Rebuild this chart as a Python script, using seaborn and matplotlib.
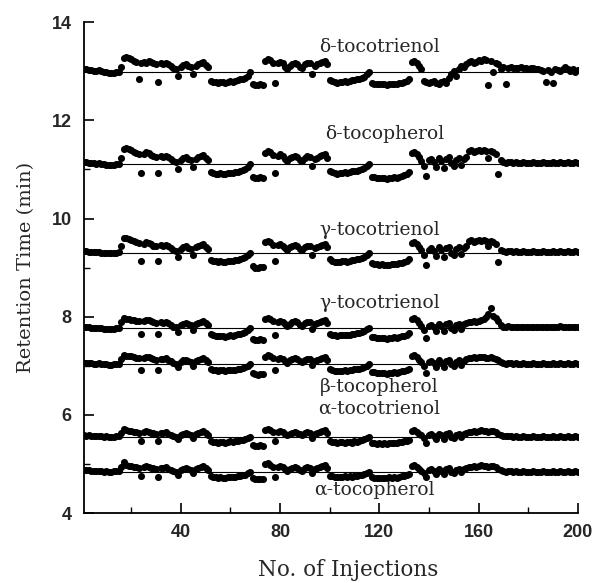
import matplotlib as mpl
import matplotlib.pyplot as plt
from matplotlib.ticker import MultipleLocator
import seaborn as sns
import pandas as pd
import numpy as np

sns.set_style('ticks')
mpl.rcParams['font.family'] = ['DejaVu Serif']

# injection number 1..200
injections = list(range(1, 201))

compounds = ['δ-tocotrienol', 'δ-tocopherol', 'γ-tocotrienol', 'γ-tocotrienol (2)',
             'β-tocopherol', 'α-tocotrienol', 'α-tocopherol']
# mean retention time (the horizontal line drawn through each trace), min
mean_rt = [12.99, 11.11, 9.30, 7.77, 7.03, 5.55, 4.84]

# read-off offsets from the mean line, in 0.01 min, one value per injection
d_toco3 = [5, 5, 4, 3, 2, 2, 3, 2, 0, -1, -2, -2, -2, -1, 0, 10, 28, 30, 27, 26,
           22, 20, -15, 17, 20, 18, 22, 20, 17, 15, -20, 17, 16, 18, 15, 12, 8, 5, -8, 10,
           14, 15, 12, 10, -5, 12, 15, 18, 20, 14, 10, -18, -20, -21, -22, -20, -21, -22, -20, -19,
           -20, -18, -17, -15, -14, -12, -8, 0, -25, -27, -28, -25, -27, 22, 25, 24, 18, -22, 18, 20,
           17, 10, 5, 12, 15, 18, 16, 10, 8, 15, 18, 17, -5, 12, 15, 18, 20, 22, 15, -16,
           -19, -20, -22, -21, -20, -19, -20, -18, -17, -16, -15, -14, -12, -10, -5, 0, -22, -24, -25, -26,
           -25, -26, -27, -26, -25, -24, -25, -23, -22, -20, -18, -15, 20, 22, 18, 12, 5, -18, -20, -22,
           -20, -18, -22, -24, -20, -18, -22, -12, -5, 2, -8, 5, 12, 10, 15, 20, 22, 18, 20, 24,
           22, 25, 24, -28, 22, 0, 18, 15, 5, 10, -25, 8, 10, 8, 7, 8, 9, 7, 8, 6,
           7, 8, 6, 5, 4, 2, -20, 3, 0, -22, 6, 4, 2, 5, 10, 6, 2, 5, 0, 3]
d_toco = [4, 4, 3, 3, 2, 1, 2, 1, 0, -1, -1, -2, -1, 0, 1, 12, 30, 33, 30, 28,
          25, 22, 20, -18, 20, 24, 22, 19, 16, 14, -18, 16, 15, 17, 14, 10, 6, 4, -10, 8,
          12, 14, 11, 8, -6, 10, 14, 17, 19, 13, 8, -16, -18, -20, -21, -19, -20, -21, -19, -18,
          -19, -17, -16, -15, -13, -11, -7, 0, -26, -28, -29, -27, -28, 22, 26, 24, 18, -18, 16, 20,
          17, 11, 6, 12, 15, 17, 15, 9, 7, 13, 16, 15, -4, 10, 13, 16, 18, 20, 12, -14,
          -17, -18, -20, -19, -18, -17, -18, -16, -15, -14, -14, -13, -11, -9, -4, 0, -26, -27, -28, -29,
          -28, -29, -30, -29, -28, -27, -28, -26, -25, -23, -20, -16, 22, 24, 20, 14, 6, -4, -25, 8,
          10, 4, -6, 12, 6, -8, 10, 14, 2, -4, 8, 12, -2, 10, 14, 26, 28, 25, 27, 29,
          26, 28, 27, 13, 26, 24, 20, -20, 8, 4, 3, 5, 4, 3, 4, 3, 2, 4, 3, 2,
          3, 4, 2, 3, 2, 4, 3, 2, 3, 4, 2, 3, 5, 3, 2, 4, 3, 2, 4, 3]
g_toco3_a = [3, 3, 2, 2, 1, 1, 1, 0, 0, -1, -1, -1, 0, 0, 1, 14, 31, 30, 28, 27,
             24, 22, 20, -17, 19, 22, 20, 18, 15, 13, -17, 16, 14, 16, 13, 9, 5, 3, -9, 8,
             12, 13, 10, 8, -5, 11, 13, 16, 18, 12, 7, -14, -16, -17, -18, -17, -18, -19, -17, -16,
             -17, -15, -14, -13, -11, -9, -5, 0, -27, -30, -31, -29, -28, 22, 25, 23, 17, -17, 16, 18,
             15, 10, 5, 11, 14, 16, 14, 8, 6, 12, 15, 14, -4, 9, 12, 15, 17, 19, 11, -13,
             -16, -18, -19, -18, -17, -17, -18, -16, -15, -14, -13, -12, -10, -8, -4, 0, -20, -22, -23, -24,
             -23, -24, -25, -24, -23, -22, -23, -21, -20, -18, -16, -12, 20, 22, 18, 12, 5, -4, -24, 6,
             9, 3, -7, 11, 5, -9, 9, 12, 0, -5, 7, 11, -3, 9, 13, 24, 26, 23, 25, 27,
             24, 27, 25, 14, 24, 22, 19, -18, 6, 3, 2, 4, 3, 2, 3, 2, 1, 3, 2, 1,
             2, 3, 1, 2, 1, 3, 2, 1, 2, 3, 1, 2, 4, 2, 1, 3, 2, 1, 3, 2]
g_toco3_b = [2, 2, 1, 0, 0, -1, 0, -1, -2, -2, -3, -2, -2, -1, 0, 12, 20, 19, 18, 17,
             16, 15, 14, -12, 15, 17, 16, 14, 12, 10, -12, 12, 11, 13, 10, 6, 3, 1, -8, 6,
             9, 10, 8, 6, -4, 8, 10, 13, 15, 10, 6, -13, -15, -16, -17, -16, -17, -18, -16, -15,
             -16, -14, -13, -12, -10, -8, -4, 0, -22, -24, -25, -23, -24, 18, 20, 19, 14, -14, 12, 15,
             13, 8, 4, 9, 12, 14, 12, 7, 5, 10, 13, 12, -3, 8, 11, 13, 15, 17, 10, -12,
             -14, -15, -16, -15, -15, -14, -15, -14, -13, -12, -11, -10, -9, -7, -3, 0, -18, -19, -20, -21,
             -20, -21, -22, -21, -20, -19, -20, -18, -17, -16, -14, -11, 18, 20, 16, 10, 4, -4, -20, 5,
             7, 2, -6, 9, 4, -7, 8, 10, 0, -4, 6, 9, -2, 8, 11, 13, 12, 14, 13, 15,
             16, 19, 22, 28, 41, 25, 20, 14, 6, 3, 2, 4, 3, 2, 3, 2, 1, 3, 2, 1,
             2, 3, 1, 2, 1, 3, 2, 1, 2, 3, 1, 2, 4, 2, 1, 3, 2, 1, 3, 2]
b_toco = [3, 3, 2, 2, 1, 1, 2, 1, 0, 0, -1, -1, 0, 0, 1, 10, 18, 17, 16, 16,
          14, 13, 12, -12, 13, 15, 14, 12, 10, 9, -12, 11, 10, 12, 9, 6, 3, 1, -6, 5,
          8, 9, 7, 5, -3, 7, 9, 11, 13, 9, 5, -10, -11, -12, -13, -12, -12, -13, -12, -11,
          -12, -11, -10, -9, -8, -6, -3, 0, -18, -20, -21, -19, -20, 15, 18, 17, 12, -12, 11, 13,
          11, 7, 3, 8, 10, 12, 10, 6, 4, 9, 11, 10, -2, 7, 9, 11, 13, 15, 9, -10,
          -12, -13, -14, -13, -13, -12, -13, -12, -11, -10, -10, -9, -8, -6, -3, 0, -15, -16, -17, -18,
          -17, -18, -19, -18, -17, -16, -17, -15, -14, -13, -12, -9, 16, 18, 14, 9, 4, -3, -18, 4,
          6, 2, -5, 8, 3, -6, 7, 9, 0, -3, 5, 8, -1, 7, 10, 12, 13, 14, 13, 14,
          15, 14, 13, 12, 14, 13, 11, 8, 4, 2, 1, 3, 2, 1, 2, 1, 0, 2, 1, 0,
          1, 2, 0, 1, 0, 2, 1, 0, 1, 2, 0, 1, 3, 1, 0, 2, 1, 0, 2, 1]
a_toco3 = [3, 2, 3, 2, 1, 2, 1, 1, 0, 1, 0, -1, 0, 1, 2, 8, 16, 14, 13, 12,
           11, 10, 9, -8, 10, 12, 11, 9, 8, 7, -9, 9, 8, 10, 7, 4, 2, 0, -5, 4,
           7, 8, 6, 4, -2, 6, 8, 10, 12, 8, 4, -8, -10, -11, -12, -10, -11, -12, -10, -9,
           -10, -9, -8, -7, -6, -5, -2, 0, -16, -18, -19, -17, -18, 14, 16, 15, 11, -9, 10, 12,
           10, 6, 3, 7, 9, 11, 9, 5, 3, 8, 10, 9, -2, 6, 8, 10, 12, 14, 8, -8,
           -10, -11, -12, -11, -10, -12, -11, -10, -12, -9, -10, -8, -7, -5, -2, 0, -12, -13, -14, -13,
           -14, -13, -14, -12, -13, -12, -13, -11, -10, -9, -8, -6, 12, 14, 11, 7, 3, -3, -12, 3,
           5, 2, -4, 6, 3, -5, 6, 8, 0, -2, 4, 7, 0, 6, 8, 10, 11, 12, 11, 13,
           14, 13, 12, 11, 13, 12, 10, 7, 3, 2, 1, 2, 1, 0, 1, 0, -1, 1, 0, -1,
           0, 1, -1, 0, -1, 1, 0, -1, 0, 1, -1, 0, 2, 0, -1, 1, 0, -1, 1, 0]
a_toco = [4, 3, 4, 2, 2, 1, 2, 1, 0, 1, 0, 0, 1, 1, 2, 10, 20, 14, 12, 11,
          10, 9, 8, -9, 9, 11, 10, 8, 7, 6, -10, 8, 7, 9, 6, 3, 1, -1, -6, 3,
          6, 7, 5, 3, -2, 5, 7, 9, 11, 7, 3, -9, -10, -11, -12, -11, -12, -13, -11, -10,
          -11, -10, -9, -8, -7, -6, -3, 0, -13, -14, -15, -14, -14, 16, 18, 14, 10, -10, 9, 11,
          9, 5, 2, 6, 8, 10, 8, 4, 2, 7, 9, 8, -3, 5, 7, 9, 11, 13, 7, -8,
          -9, -10, -11, -10, -10, -9, -10, -9, -11, -8, -9, -7, -6, -5, -2, 0, -11, -12, -13, -12,
          -13, -12, -13, -11, -12, -11, -12, -10, -9, -8, -7, -5, 11, 13, 10, 6, 2, -3, -11, 3,
          5, 1, -4, 6, 2, -5, 5, 7, 0, -2, 4, 6, 0, 5, 7, 9, 10, 11, 10, 12,
          13, 12, 11, 10, 12, 11, 9, 6, 3, 1, 0, 2, 1, 0, 1, 0, -1, 1, 0, -1,
          0, 1, -1, 0, -1, 1, 0, -1, 0, 1, -1, 0, 2, 0, -1, 1, 0, -1, 1, 0]

offsets = [d_toco3, d_toco, g_toco3_a, g_toco3_b, b_toco, a_toco3, a_toco]

# label text and (x, y) anchor (data units, baseline)
label_text = ['δ-tocotrienol', 'δ-tocopherol', 'γ-tocotrienol', 'γ-tocotrienol',
              'β-tocopherol', 'α-tocotrienol', 'α-tocopherol']
label_x = [120, 122, 120, 120, 120, 120, 118]
label_y = [13.39, 11.62, 9.66, 8.18, 6.47, 6.02, 4.37]

frames = []
for name, base, off in zip(compounds, mean_rt, offsets):
  frames.append(pd.DataFrame({'injection': injections,
                              'rt': base + np.array(off) / 100.0,
                              'compound': name}))
df = pd.concat(frames, ignore_index=True)

fig = plt.figure(figsize=(6, 5.83), dpi=100)
ax = fig.add_axes([0.14, 0.12, 0.823, 0.842])

sns.scatterplot(data=df, x='injection', y='rt', color='black', s=26,
                linewidth=0, marker='o', legend=False, ax=ax)
ax.hlines(mean_rt, 1, 201, colors='black', lw=0.8)

for t, x, y in zip(label_text, label_x, label_y):
  ax.text(x, y, t, ha='center', va='baseline', fontsize=13.5, family='DejaVu Serif')

ax.set_xlim(1, 200)
ax.set_ylim(4, 14)
ax.xaxis.set_major_locator(MultipleLocator(40))
ax.xaxis.set_minor_locator(MultipleLocator(20))
ax.yaxis.set_major_locator(MultipleLocator(2))
ax.yaxis.set_minor_locator(MultipleLocator(1))
ax.tick_params(which='major', direction='in', length=7, width=1.2, color='black',
               labelsize=13, labelfontfamily='Liberation Sans')
ax.tick_params(which='minor', direction='in', length=4, width=1.0, color='black')
ax.tick_params(axis='x', which='major', pad=8)
ax.tick_params(axis='y', which='major', pad=9)
for lab in ax.get_xticklabels() + ax.get_yticklabels():
  lab.set_fontweight('bold')

sns.despine(ax=ax)
for s in ['left', 'bottom']:
  ax.spines[s].set_linewidth(1.3)
  ax.spines[s].set_color('black')

ax.set_xlabel('No. of Injections', fontsize=15.5)
ax.xaxis.set_label_coords(0.535, -0.093)
ax.set_ylabel('Retention Time (min)', fontsize=14, labelpad=12)

plt.savefig('out.png', dpi=100)
